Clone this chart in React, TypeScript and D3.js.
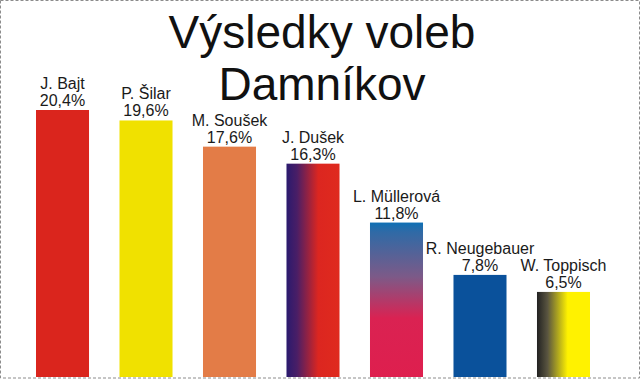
import React from "react";
import * as d3 from "d3";

const names = ["J. Bajt", "P. Šilar", "M. Soušek", "J. Dušek", "L. Müllerová", "R. Neugebauer", "W. Toppisch"];
const values = [20.4, 19.6, 17.6, 16.3, 11.8, 7.8, 6.5];
const valueLabels = ["20,4%", "19,6%", "17,6%", "16,3%", "11,8%", "7,8%", "6,5%"];
const fills = ["#DA251D", "#F0E100", "#E37C47", "url(#gDusek)", "url(#gMuller)", "#0A519B", "url(#gToppisch)"];
const titleLines = ["Výsledky voleb", "Damníkov"];

const W = 640;
const H = 379;
const FONT = "'Liberation Sans', Arial, Helvetica, sans-serif";

export default function App() {
  const x = d3.scaleBand<string>().domain(names).range([36, 590]).paddingInner(0.365).paddingOuter(0);
  const y = d3.scaleLinear().domain([0, 20.4]).range([377, 110]);

  return (
    <svg
      width={W}
      height={H}
      viewBox={`0 0 ${W} ${H}`}
      style={{ position: "fixed", left: 0, top: 0, background: "#fff" }}
    >
      <defs>
        <linearGradient id="gDusek" x1="0" y1="0" x2="1" y2="0">
          <stop offset="0" stopColor="#2A1A6E" />
          <stop offset="0.2" stopColor="#4A1E66" />
          <stop offset="0.6" stopColor="#DC2620" />
          <stop offset="1" stopColor="#DF2A1E" />
        </linearGradient>
        <linearGradient id="gMuller" x1="0" y1="0" x2="0" y2="1">
          <stop offset="0" stopColor="#0E70B5" />
          <stop offset="0.06" stopColor="#2F6AA6" />
          <stop offset="0.35" stopColor="#7C5A88" />
          <stop offset="0.62" stopColor="#DA2252" />
          <stop offset="1" stopColor="#DE1F4E" />
        </linearGradient>
        <linearGradient id="gToppisch" x1="0" y1="0" x2="1" y2="0">
          <stop offset="0" stopColor="#222222" />
          <stop offset="0.2" stopColor="#5A5540" />
          <stop offset="0.58" stopColor="#FFF200" />
          <stop offset="1" stopColor="#FFF200" />
        </linearGradient>
      </defs>
      <rect x={0} y={0} width={W} height={H} fill="#fff" />
      <rect
        x={0.5}
        y={0.5}
        width={W - 1}
        height={H - 1.5}
        fill="none"
        stroke="#8c8c8c"
        strokeDasharray="3,2"
      />
      {titleLines.map((t, i) => (
        <text
          key={t}
          x={322}
          y={48 + i * 52}
          textAnchor="middle"
          fontFamily={FONT}
          fontSize={46}
          fill="#111"
        >
          {t}
        </text>
      ))}
      {names.map((n, i) => {
        const bx = x(n) as number;
        const bw = x.bandwidth();
        const top = y(values[i]);
        const cx = bx + bw / 2;
        return (
          <g key={n}>
            <rect x={bx} y={top} width={bw} height={y(0) - top} fill={fills[i]} />
            <text x={cx} y={top - 21} textAnchor="middle" fontFamily={FONT} fontSize={16} fill="#1a1a1a">
              {n}
            </text>
            <text x={cx} y={top - 4} textAnchor="middle" fontFamily={FONT} fontSize={16} fill="#1a1a1a">
              {valueLabels[i]}
            </text>
          </g>
        );
      })}
    </svg>
  );
}
